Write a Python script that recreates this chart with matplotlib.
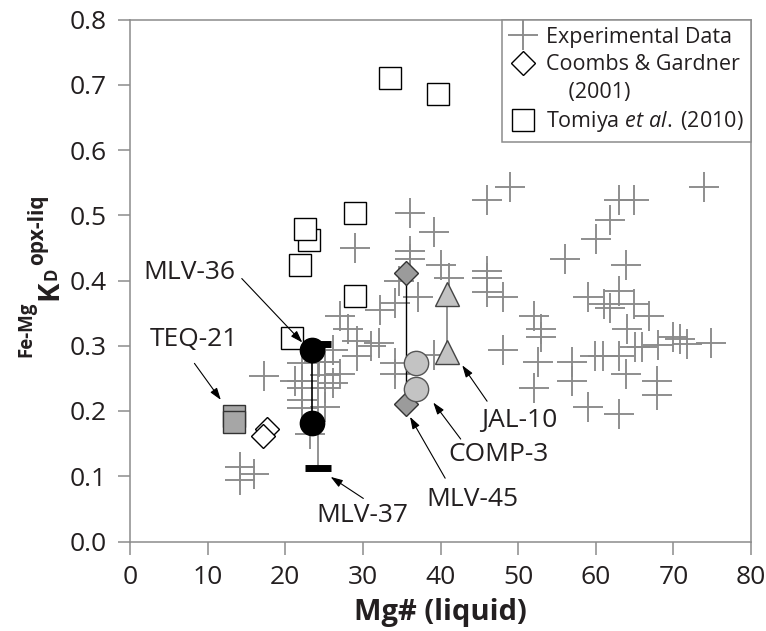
import matplotlib
matplotlib.use('Agg')
import matplotlib.pyplot as plt
from matplotlib.lines import Line2D

plt.rcParams['font.family'] = ['Open Sans', 'DejaVu Sans']
plt.rcParams['mathtext.fontset'] = 'custom'
plt.rcParams['mathtext.rm'] = 'Open Sans'
plt.rcParams['mathtext.it'] = 'Open Sans:italic'
plt.rcParams['mathtext.bf'] = 'Open Sans:bold'

# ---------------- data ----------------
exp_x = [48.95, 46.0, 73.9, 64.9, 63.0, 61.9, 60.0, 56.0, 63.9,
         36.1, 39.1, 36.1, 36.1, 40.1, 41.1, 46.0, 46.0, 46.0, 48.0,
         52.0, 53.0, 53.0, 48.1, 37.1, 34.6, 32.2, 34.1, 32.1, 29.0,
         59.0, 61.0, 63.0, 61.9, 64.9, 66.9, 64.0,
         74.9, 71.7, 70.9, 69.9, 68.0, 65.9, 65.0, 63.0, 60.9, 59.9,
         57.0, 57.0, 63.9, 67.9, 67.9, 59.0, 63.0, 52.6, 52.0, 39.1,
         34.1, 34.1,
         17.2, 14.2, 16.0, 14.2,
         27.1, 28.1, 31.1, 29.2, 29.2,
         26.2, 24.3, 27.05, 21.3, 22.1, 22.1, 25.1, 25.1, 26.1, 25.1,
         22.1, 23.2, 22.2, 25.1, 22.1]
exp_y = [0.543, 0.523, 0.543, 0.523, 0.523, 0.493, 0.463, 0.433, 0.423,
         0.503, 0.474, 0.445, 0.433, 0.423, 0.404, 0.414, 0.404, 0.383, 0.374,
         0.345, 0.325, 0.314, 0.294, 0.374, 0.399, 0.355, 0.365, 0.304, 0.450,
         0.374, 0.364, 0.384, 0.358, 0.364, 0.345, 0.325,
         0.304, 0.302, 0.310, 0.313, 0.301, 0.298, 0.298, 0.285, 0.285, 0.285,
         0.275, 0.246, 0.256, 0.246, 0.225, 0.206, 0.196, 0.275, 0.235, 0.286,
         0.274, 0.256,
         0.254, 0.114, 0.104, 0.094,
         0.345, 0.325, 0.299, 0.307, 0.285,
         0.294, 0.275, 0.256, 0.2455, 0.235, 0.2175, 0.2057, 0.2557, 0.243, 0.235,
         0.2466, 0.165, 0.205, 0.2746, 0.274]

tomiya_x = [33.5, 39.7, 29.0, 23.1, 22.6, 21.9, 29.0, 20.9]
tomiya_y = [0.710, 0.686, 0.504, 0.462, 0.479, 0.424, 0.377, 0.312]

coombs_x = [17.6, 17.1]
coombs_y = [0.172, 0.161]

teq21_x = [13.4, 13.4]
teq21_y = [0.193, 0.183]

mlv36_x = [23.5, 23.5]
mlv36_y = [0.293, 0.182]

mlv37_x = [24.2, 24.2]
mlv37_y = [0.303, 0.112]

mlv45_x = [35.5, 35.5]
mlv45_y = [0.411, 0.211]

comp3_x = [36.9, 36.9]
comp3_y = [0.273, 0.234]

jal10_x = [40.8, 40.8]
jal10_y = [0.380, 0.291]

sample_labels = ['MLV-36', 'TEQ-21', 'MLV-37', 'MLV-45', 'COMP-3', 'JAL-10']
label_x = [7.7, 8.2, 29.9, 44.1, 47.5, 50.2]
label_y = [0.412, 0.310, 0.040, 0.064, 0.134, 0.186]
arrow_from_x = [14.4, 8.3, 30.06, 40.6, 42.6, 46.0]
arrow_from_y = [0.403, 0.273, 0.066, 0.097, 0.157, 0.215]
arrow_to_x = [22.2, 11.7, 25.85, 36.07, 39.07, 42.8]
arrow_to_y = [0.305, 0.217, 0.099, 0.191, 0.213, 0.270]

x_ticks = [0, 10, 20, 30, 40, 50, 60, 70, 80]
y_ticks = [0.0, 0.1, 0.2, 0.3, 0.4, 0.5, 0.6, 0.7, 0.8]

legend_labels = ['Experimental Data', 'Coombs & Gardner', '    (2001)',
                 r'Tomiya $\it{et\ al.}\;$(2010)']

# ---------------- styling ----------------
W, H = 766, 631
GRAY = '#8a8a8a'
SPINE = '#8c8c8c'
TXT = '#231f20'

fig = plt.figure(figsize=(W / 100, H / 100), dpi=100)
ax = fig.add_axes([130 / W, (H - 541.5) / H, 621 / W, 522 / H])
ax.set_xlim(0, 80)
ax.set_ylim(0, 0.8)
ax.set_xticks(x_ticks)
ax.set_yticks(y_ticks)
ax.set_yticklabels([f'{v:.1f}' for v in y_ticks])
ax.tick_params(direction='out', length=9, width=1.1, color=SPINE,
               labelsize=19, labelcolor=TXT, pad=8)
for sp in ax.spines.values():
    sp.set_color(SPINE)
    sp.set_linewidth(1.1)

# experimental data
ax.plot(exp_x, exp_y, ls='none', marker='+', ms=22, mew=1.35, color=GRAY, zorder=2)

# Tomiya et al.
ax.plot(tomiya_x, tomiya_y, ls='none', marker='s', ms=15.5, mfc='white',
        mec='black', mew=1.0, zorder=3)
# Coombs & Gardner
ax.plot(coombs_x, coombs_y, ls='none', marker='D', ms=12, mfc='white',
        mec='black', mew=1.0, zorder=3)
# TEQ-21
ax.plot(teq21_x, teq21_y, ls='none', marker='s', ms=15.5, mfc='#a6a6a6',
        mec='#333333', mew=1.0, zorder=3)
# MLV-37
ax.plot(mlv37_x, mlv37_y, color=GRAY, lw=1.3, zorder=3)
ax.plot(mlv37_x, mlv37_y, ls='none', marker='_', ms=19, mew=5, color='black', zorder=3)
# MLV-36
ax.plot(mlv36_x, mlv36_y, color='black', lw=1.2, zorder=4)
ax.plot(mlv36_x, mlv36_y, ls='none', marker='o', ms=17.5, color='black', zorder=4)
# MLV-45
ax.plot(mlv45_x, mlv45_y, color='black', lw=1.0, zorder=4)
ax.plot(mlv45_x, mlv45_y, ls='none', marker='D', ms=12.5, mfc='#9b9b9b',
        mec='#333333', mew=1.0, zorder=4)
# COMP-3
ax.plot(comp3_x, comp3_y, ls='none', marker='o', ms=17.5, mfc='#c3c3c3',
        mec='#555555', mew=1.0, zorder=4)
# JAL-10
ax.plot(jal10_x, jal10_y, color=GRAY, lw=1.3, zorder=3)
ax.plot(jal10_x, jal10_y, ls='none', marker='^', ms=17, mfc='#c3c3c3',
        mec='#444444', mew=1.0, zorder=4)

# annotations
for i, lab in enumerate(sample_labels):
    ax.text(label_x[i], label_y[i], lab, ha='center', va='center',
            fontsize=19, color=TXT, zorder=6)
    ax.annotate('', xy=(arrow_to_x[i], arrow_to_y[i]),
                xytext=(arrow_from_x[i], arrow_from_y[i]),
                arrowprops=dict(arrowstyle='-|>,head_length=0.6,head_width=0.2',
                                color='black', lw=0.8, shrinkA=0, shrinkB=0,
                                mutation_scale=12), zorder=6)

# legend
handles = [Line2D([], [], ls='none', marker='+', ms=22, mew=1.35, color=GRAY),
           Line2D([], [], ls='none', marker='D', ms=12.5, mfc='white', mec='black', mew=1.0),
           Line2D([], [], ls='none', marker=None),
           Line2D([], [], ls='none', marker='s', ms=16, mfc='white', mec='black', mew=1.0)]
leg = ax.legend(handles, legend_labels, loc='upper right', bbox_to_anchor=(1, 1),
                borderaxespad=0, fontsize=15.5, frameon=True, fancybox=False,
                edgecolor=SPINE, handlelength=1.3, handletextpad=0.4,
                labelspacing=0.3, borderpad=0.35, framealpha=1)
leg.get_frame().set_linewidth(1.1)
for t in leg.get_texts():
    t.set_color(TXT)

# x label
ax.set_xlabel('Mg# (liquid)', fontsize=21, fontweight='bold', color=TXT, labelpad=6)

# y label built from pieces
renderer = fig.canvas.get_renderer()
ypix = 357
pieces = [('Fe-Mg', 13.5, 31, 2), ('K', 21, 57, 0), ('D', 12, 57, 3), ('opx-liq', 15, 43, 0)]
for s, size, bx, gap in pieces:
    t = fig.text(bx / W, 1 - ypix / H, s, rotation=90, rotation_mode='anchor',
                 ha='left', va='baseline', fontsize=size, fontweight='bold', color=TXT)
    bb = t.get_window_extent(renderer)
    ypix -= bb.height + gap

fig.savefig('out.png', dpi=100)
